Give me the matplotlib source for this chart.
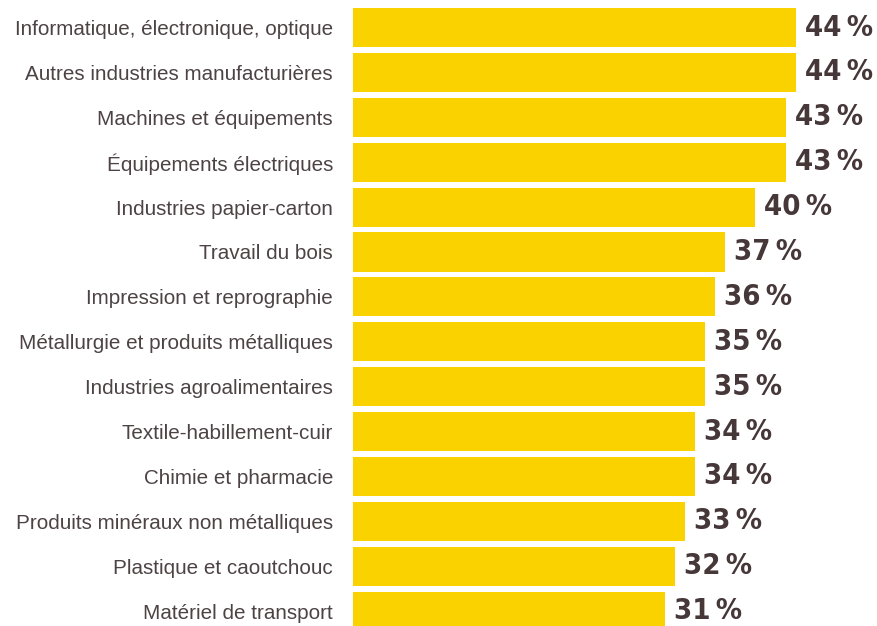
import matplotlib
matplotlib.use("Agg")
import matplotlib.pyplot as plt
from matplotlib import font_manager

# données
secteurs = [
    "Informatique, électronique, optique",
    "Autres industries manufacturières",
    "Machines et équipements",
    "Équipements électriques",
    "Industries papier-carton",
    "Travail du bois",
    "Impression et reprographie",
    "Métallurgie et produits métalliques",
    "Industries agroalimentaires",
    "Textile-habillement-cuir",
    "Chimie et pharmacie",
    "Produits minéraux non métalliques",
    "Plastique et caoutchouc",
    "Matériel de transport",
]
valeurs = [44, 44, 43, 43, 40, 37, 36, 35, 35, 34, 34, 33, 32, 31]

jaune = "#FAD200"
brun = "#463739"
gris = "#4d4345"

noms = {f.name for f in font_manager.fontManager.ttflist}
police_lab = "Liberation Sans" if "Liberation Sans" in noms else "DejaVu Sans"

W, H = 877, 626
fig = plt.figure(figsize=(W / 100, H / 100), dpi=100)
ax = fig.add_axes([353 / W, 0, 1 - 353 / W, 1])

pas = 44.9  # px entre deux barres
y = list(range(len(secteurs)))
ax.barh(y, valeurs, height=0.87, color=jaune)

haut = -27.5 / pas
ax.set_ylim(haut + H / pas, haut)
ax.set_xlim(0, (W - 353) / 10.06)

for i, v in enumerate(valeurs):
    ax.text(v + 0.9, i, f"{v}\u2009%", va="center", ha="left", fontsize=21,
            fontweight="bold", fontstretch="condensed", color=brun,
            family="DejaVu Sans")

ax.set_yticks(y)
ax.set_yticklabels(secteurs, family=police_lab, fontsize=14.9, color=gris)
ax.tick_params(axis="y", length=0, pad=14.4)
ax.set_xticks([])
for s in ax.spines.values():
    s.set_visible(False)

fig.savefig("out.png", dpi=100)
